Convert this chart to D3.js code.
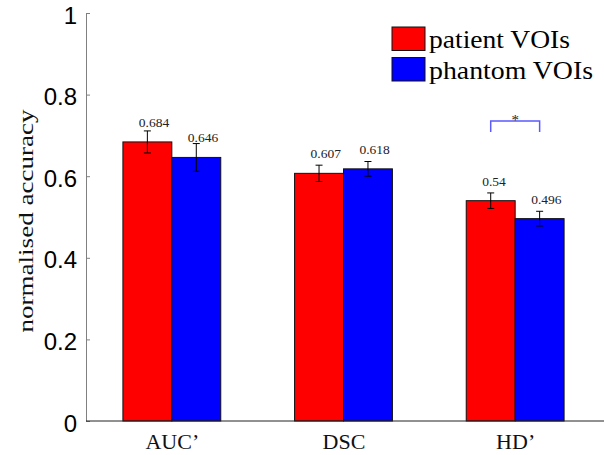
<!DOCTYPE html>
<html>
<head>
<meta charset="utf-8">
<script src="https://cdn.jsdelivr.net/npm/d3@7"></script>
<style>
  body { margin: 0; background: #fff; }
  svg { display: block; }
  .serif { font-family: "Liberation Serif", "Times New Roman", serif; }
</style>
</head>
<body>
<svg id="viz"></svg>
<script>
(function () {
    // data
    let categories = ['AUC\u2019', 'DSC', 'HD\u2019']
    let seriesNames = ['patient VOIs', 'phantom VOIs']
    let patientValues = [0.684, 0.607, 0.54]
    let phantomValues = [0.646, 0.618, 0.496]
    let patientErrors = [0.027, 0.020, 0.019]
    let phantomErrors = [0.034, 0.018, 0.018]
    let yTicks = [0, 0.2, 0.4, 0.6, 0.8, 1]
    // significance bracket: category index, label
    let significance = [{ cat: 2, label: '*', level: 0.735 }]

    let config = {
        width: 604,
        height: 455,
        plot: { left: 86, right: 601, top: 13, bottom: 421 },
        barWidth: 0.285,
        colors: ['#ff0000', '#0000ff']
    }

    let svg = d3.select('#viz')
        .attr('width', config.width)
        .attr('height', config.height)

    let xScale = d3.scaleLinear()
        .domain([0.5, categories.length + 0.5])
        .range([config.plot.left, config.plot.right])
    let yScale = d3.scaleLinear()
        .domain([0, 1])
        .range([config.plot.bottom, config.plot.top])

    let bw = config.barWidth
    let series = [patientValues, phantomValues]
    let errors = [patientErrors, phantomErrors]
    let offsets = [-bw / 2, bw / 2]

    // bars
    series.forEach((values, si) => {
        let g = svg.append('g')
        values.forEach((v, ci) => {
            let xc = ci + 1 + offsets[si]
            let x1 = xScale(xc - bw / 2)
            let x2 = xScale(xc + bw / 2)
            g.append('rect')
                .attr('x', x1)
                .attr('y', yScale(v))
                .attr('width', x2 - x1)
                .attr('height', yScale(0) - yScale(v))
                .attr('fill', config.colors[si])
                .attr('stroke', '#111')
                .attr('stroke-width', 1)
        })
    })

    // error bars and value labels
    series.forEach((values, si) => {
        values.forEach((v, ci) => {
            let cx = xScale(ci + 1 + offsets[si])
            let e = errors[si][ci]
            let yTop = yScale(v + e)
            let yBot = yScale(v - e)
            let g = svg.append('g').attr('stroke', '#000').attr('stroke-width', 1)
            g.append('line').attr('x1', cx).attr('x2', cx).attr('y1', yTop).attr('y2', yBot)
            g.append('line').attr('x1', cx - 3.5).attr('x2', cx + 3.5).attr('y1', yTop).attr('y2', yTop)
            g.append('line').attr('x1', cx - 3.5).attr('x2', cx + 3.5).attr('y1', yBot).attr('y2', yBot)
            svg.append('text')
                .classed('serif', true)
                .attr('x', cx - 8.5)
                .attr('y', yScale(v) - 15)
                .attr('font-size', 13.5)
                .attr('fill', '#222')
                .text(String(v))
        })
    })

    // significance bracket
    significance.forEach(s => {
        let xa = xScale(s.cat + 1 + offsets[0])
        let xb = xScale(s.cat + 1 + offsets[1])
        let yb = yScale(s.level)
        svg.append('path')
            .attr('d', `M${xa},${yb + 11}V${yb}H${xb}V${yb + 11}`)
            .attr('fill', 'none')
            .attr('stroke', '#5a5aff')
            .attr('stroke-width', 1.5)
        svg.append('text')
            .classed('serif', true)
            .attr('x', (xa + xb) / 2)
            .attr('y', yb + 4)
            .attr('text-anchor', 'middle')
            .attr('font-size', 15)
            .attr('fill', '#222')
            .text(s.label)
    })

    // y axis
    let yAxis = d3.axisLeft(yScale)
        .tickValues(yTicks)
        .tickSizeInner(-4)
        .tickSizeOuter(0)
        .tickPadding(9)
        .tickFormat(d => (d === 0 || d === 1) ? String(d) : d.toFixed(1))
    let gy = svg.append('g')
        .attr('transform', `translate(${config.plot.left},0)`)
        .call(yAxis)
    gy.select('.domain').attr('stroke', '#808080')
    gy.selectAll('.tick line').attr('stroke', '#808080')
    gy.selectAll('.tick text')
        .attr('font-family', '"Liberation Sans", Arial, sans-serif')
        .attr('font-size', 24)
        .attr('fill', '#000')
        .attr('dy', '0.42em')

    // x axis
    let xAxis = d3.axisBottom(xScale)
        .tickValues(categories.map((c, i) => i + 1))
        .tickSize(0)
        .tickPadding(11)
        .tickFormat((d, i) => categories[i])
    let gx = svg.append('g')
        .attr('transform', `translate(0,${config.plot.bottom})`)
        .call(xAxis)
    gx.select('.domain').attr('stroke', '#222').attr('d', `M${config.plot.left},0H${config.width}`)
    gx.selectAll('.tick text')
        .attr('font-family', '"Liberation Serif", "Times New Roman", serif')
        .attr('font-size', 22)
        .attr('fill', '#111')
        .attr('dy', '0.75em')

    // y axis label
    svg.append('text')
        .classed('serif', true)
        .attr('transform', `translate(33,${(config.plot.top + config.plot.bottom) / 2 + 4}) rotate(-90)`)
        .attr('text-anchor', 'middle')
        .attr('font-size', 22)
        .attr('textLength', 223)
        .attr('lengthAdjust', 'spacingAndGlyphs')
        .attr('fill', '#111')
        .text('normalised accuracy')

    // legend
    let legend = svg.append('g').attr('transform', 'translate(392,27)')
    seriesNames.forEach((name, i) => {
        let row = legend.append('g').attr('transform', `translate(0,${i * 30.5})`)
        row.append('rect')
            .attr('x', 0).attr('y', 0)
            .attr('width', 33).attr('height', 23.5)
            .attr('fill', config.colors[i])
            .attr('stroke', '#111')
        row.append('text')
            .classed('serif', true)
            .attr('x', 37)
            .attr('y', 21)
            .attr('font-size', 25)
            .attr('textLength', i === 0 ? 141 : 164)
            .attr('lengthAdjust', 'spacingAndGlyphs')
            .attr('fill', '#000')
            .text(name)
    })
})()
</script>
</body>
</html>
